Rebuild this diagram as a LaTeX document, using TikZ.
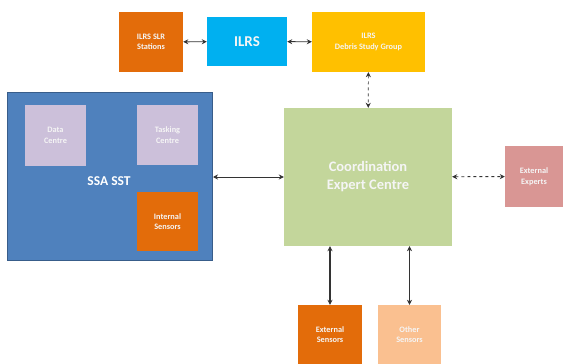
\documentclass[tikz,border=0pt]{standalone}
\usepackage{fontspec}
\setmainfont{Carlito}
\usetikzlibrary{positioning,arrows.meta}
\definecolor{slrorange}{HTML}{E36C0A}
\definecolor{ilrsblue}{HTML}{00B0F0}
\definecolor{dsggold}{HTML}{FFC000}
\definecolor{ssablue}{HTML}{4F81BD}
\definecolor{ssaline}{HTML}{385D8A}
\definecolor{lilac}{HTML}{CCC0DA}
\definecolor{coordgreen}{HTML}{C3D69B}
\definecolor{exppink}{HTML}{D99694}
\definecolor{palorange}{HTML}{FAC090}

\begin{document}
\begin{tikzpicture}[x=1pt,y=-1pt,<->,>={Stealth[length=5pt,width=5pt]},
   box/.style={inner sep=1pt,align=center,text=white!92!gray,font=\bfseries\fontsize{8.3}{10.5}\selectfont},
   link/.style={draw=black!80,line width=0.9pt}]
\useasboundingbox[fill=white] (0,0) rectangle (563,364);
% top row
\node[box,fill=slrorange,minimum width=64pt,minimum height=60pt] (slr) at (151,42) {ILRS SLR\\Stations};
\node[box,fill=ilrsblue,minimum width=80pt,minimum height=49pt,font=\bfseries\fontsize{15}{17}\selectfont] (ilrs) at (247,41.5) {ILRS};
\node[box,fill=dsggold,minimum width=113pt,minimum height=60pt] (dsg) at (368.5,42) {ILRS\\Debris Study Group};
% SSA SST block
\node[box,fill=ssablue,draw=ssaline,line width=1pt,minimum width=205pt,minimum height=168pt] (ssa) at (110,176.5) {};
\node[box,text=white,font=\bfseries\fontsize{13.5}{15}\selectfont] (ssalbl) at (109,181) {SSA SST};
\node[box,fill=lilac,minimum width=61pt,minimum height=61pt] (data) at (55.5,135.5) {Data\\Centre};
\node[box,fill=lilac,minimum width=61pt,minimum height=60pt] (task) at (167.5,135) {Tasking\\Centre};
\node[box,fill=slrorange,minimum width=61pt,minimum height=59pt] (intsens) at (167.5,221.5) {Internal\\Sensors};
% centre
\node[box,fill=coordgreen,minimum width=168pt,minimum height=138pt,font=\bfseries\fontsize{14.5}{18}\selectfont] (coord) at (368,177) {Coordination\\Expert Centre};
\node[box,fill=exppink,minimum width=58pt,minimum height=61pt] (extexp) at (534,176.5) {External\\Experts};
% bottom row
\node[box,fill=slrorange,minimum width=64pt,minimum height=59pt] (extsens) at (330,334.5) {External\\Sensors};
\node[box,fill=palorange,minimum width=63pt,minimum height=59pt] (othsens) at (409.5,334.5) {Other\\Sensors};
\path
 (slr) edge[link] (ilrs)
 (ilrs) edge[link] (dsg)
 (dsg) edge[link,dashed,line width=0.7pt] (coord)
 (ssa.east |- coord) edge[link,line width=0.7pt] (coord)
 (coord) edge[link,dashed] (extexp)
 (extsens.north) edge[link,line width=1.1pt] (extsens.north |- coord.south)
 (othsens.north) edge[link,line width=0.5pt] (othsens.north |- coord.south);
\end{tikzpicture}
\end{document}
